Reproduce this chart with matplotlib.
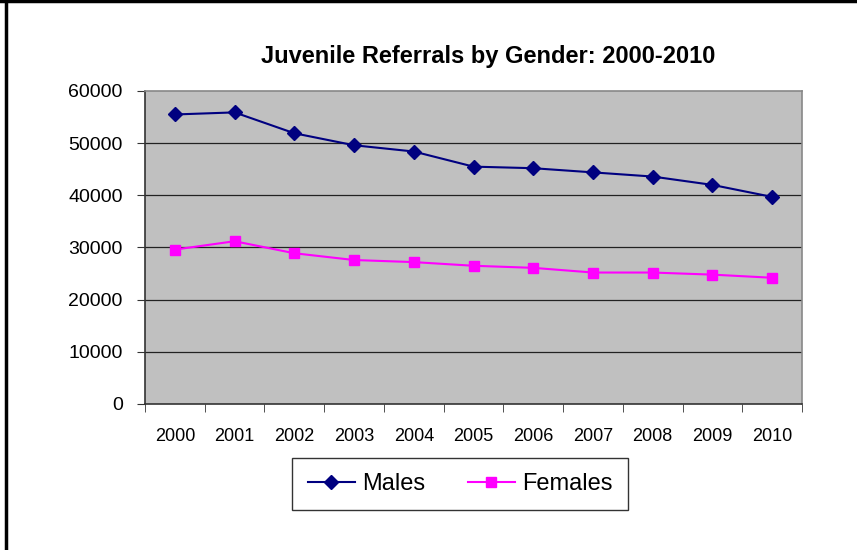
import numpy as np
import matplotlib.pyplot as plt
from matplotlib.lines import Line2D

plt.rcParams["font.family"] = ["Liberation Sans", "DejaVu Sans"]

years = ["2000", "2001", "2002", "2003", "2004", "2005",
         "2006", "2007", "2008", "2009", "2010"]
males = [55500, 55900, 51900, 49600, 48400, 45500,
         45200, 44400, 43600, 42000, 39700]
females = [29600, 31200, 28900, 27600, 27200, 26500,
           26100, 25200, 25200, 24800, 24200]

fig = plt.figure(figsize=(8.57, 5.5), dpi=100)
fig.patch.set_facecolor("white")

# outer frame: only left and top edges visible in the reference
fig.add_artist(Line2D([0.007, 0.007], [0, 1], color="black", lw=2.5))
fig.add_artist(Line2D([0, 1], [0.998, 0.998], color="black", lw=2.5))

W, H = 857, 550
ax = fig.add_axes([145 / W, 1 - 404 / H, (802 - 145) / W, (404 - 91) / H])
ax.set_facecolor("#c0c0c0")

x = np.arange(len(years))
ax.plot(x, males, color="#000080", marker="D", markersize=7, lw=1.5, zorder=3)
ax.plot(x, females, color="#ff00ff", marker="s", markersize=7, lw=1.5, zorder=3)

ax.set_xlim(-0.5, len(years) - 0.5)
ax.set_ylim(0, 60000)
ax.set_yticks(np.arange(0, 60001, 10000))
ax.set_xticks(x)
ax.set_xticklabels(years)
ax.set_xticks(np.arange(-0.5, len(years)), minor=True)

for v in range(10000, 60000, 10000):
    ax.axhline(v, color="#222222", lw=0.9, zorder=1)

ax.tick_params(axis="x", which="major", length=0, pad=17, labelsize=13)
ax.tick_params(axis="x", which="minor", length=6, color="#333333")
ax.tick_params(axis="y", length=6, labelsize=14, color="#333333", pad=10)

ax.spines["left"].set_color("#333333")
ax.spines["bottom"].set_color("#333333")
ax.spines["top"].set_color("#888888")
ax.spines["right"].set_color("#888888")
for s in ax.spines.values():
    s.set_linewidth(1.2)

fig.text(488 / W, 1 - 56 / H, "Juvenile Referrals by Gender: 2000-2010",
         ha="center", va="center", fontsize=17, fontweight="bold")

handles = [
    Line2D([], [], color="#000080", marker="D", markersize=7, lw=1.5, label="Males"),
    Line2D([], [], color="#ff00ff", marker="s", markersize=7, lw=1.5, label="Females"),
]
fig.legend(handles=handles, loc="center", bbox_to_anchor=(460 / W, 1 - 484 / H),
           ncol=2, frameon=True, fancybox=False, edgecolor="black",
           fontsize=17, handlelength=2.0, columnspacing=1.8,
           borderpad=0.65, handletextpad=0.3, borderaxespad=0)

fig.savefig("out.png", dpi=100)
